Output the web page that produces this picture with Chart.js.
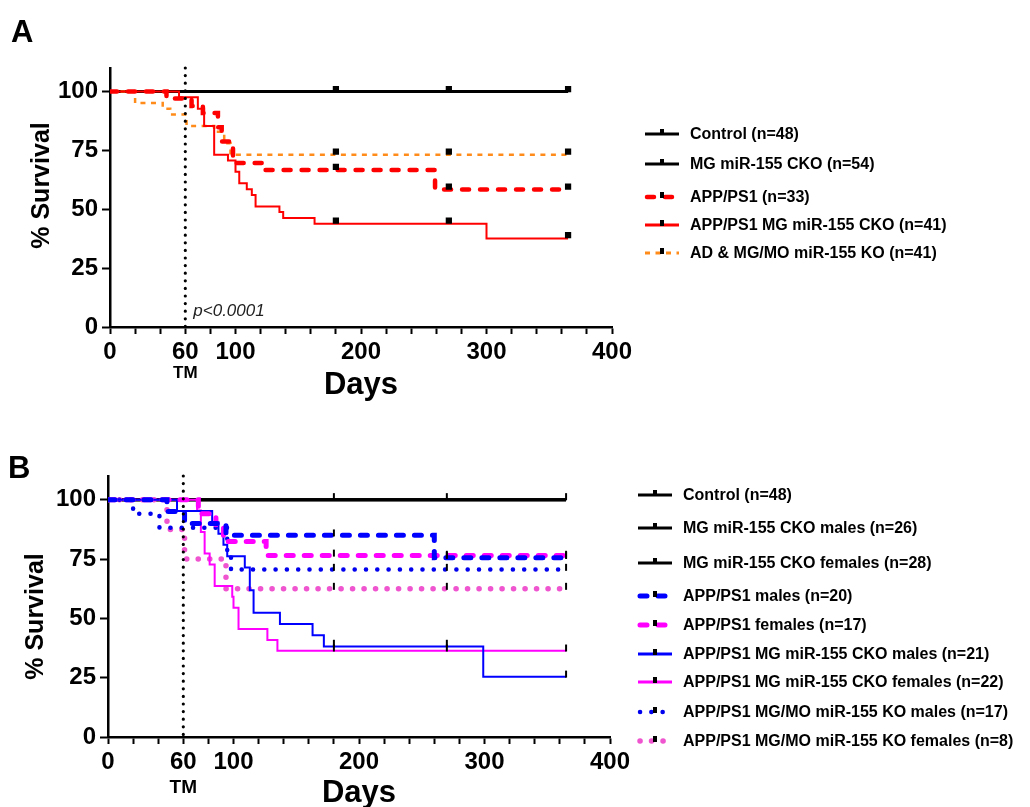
<!DOCTYPE html>
<html>
<head>
<meta charset="utf-8">
<script src="https://cdn.jsdelivr.net/npm/chart.js@4.4.1/dist/chart.umd.min.js"></script>
<style>
  body { margin: 0; background: #fff; }
  #chartA { position: absolute; left: 0; top: 0; }
  #chartB { position: absolute; left: 0; top: 410px; }
</style>
</head>
<body>
<canvas id="chartA" width="1030" height="410"></canvas>
<canvas id="chartB" width="1030" height="397"></canvas>
<script>
const FONT = '"Liberation Sans", Arial, Helvetica, sans-serif';

// axis ticks
const xTickVals = [0, 20, 40, 60, 80, 100, 120, 140, 160, 180, 200, 220, 240, 260, 280, 300, 320, 340, 360, 380, 400];
const xLabelVals = [0, 60, 100, 200, 300, 400];
const yTickVals = [0, 25, 50, 75, 100];
const censorDays = [180, 270, 365];

// ---- panel A: survival steps (day of event, % surviving after it)
const ctrlDays = [0, 365];
const ctrlSurv = [100, 100];
const mgCkoDays = [0, 365];
const mgCkoSurv = [100, 100];
const appDays = [0, 45, 65, 74, 86, 89, 95, 98, 122, 259, 365];
const appSurv = [100, 97.0, 93.9, 90.9, 84.8, 78.8, 75.8, 69.7, 66.7, 58.4, 58.4];
const appCkoDays = [0, 55, 70, 75, 83, 94, 100, 103, 109, 113, 116, 135, 138, 163, 300, 365];
const appCkoSurv = [100, 97.6, 92.7, 85.4, 73.2, 70.7, 65.9, 61.0, 58.5, 56.1, 51.2, 48.8, 46.3, 43.9, 37.6, 37.6];
const adKoDays = [0, 20, 42, 48, 61, 83, 91, 96, 365];
const adKoSurv = [100, 95.1, 92.7, 90.2, 85.4, 82.9, 78.0, 73.2, 73.2];

// censor marks (panel A)
const ctrlCensor = [101, 101, 101];
const appCensor = [68, 59.6, 59.6];
const appCkoCensor = [45.2, 45.2, 39];
const adKoCensor = [74.5, 74.5, 74.5];

// ---- panel B
const ckoMaleDays = [0, 365];
const ckoMaleSurv = [100, 100];
const ckoFemaleDays = [0, 365];
const ckoFemaleSurv = [100, 100];
const appMaleDays = [0, 47, 61, 94, 260, 365];
const appMaleSurv = [100, 95, 90, 85, 75.5, 75.5];
const appFemaleDays = [0, 72, 86, 92, 126, 365];
const appFemaleSurv = [100, 94.1, 88.2, 82.4, 76.5, 76.5];
const appCkoMaleDays = [0, 55, 83, 88, 92, 95, 109, 113, 116, 137, 163, 172, 299, 365];
const appCkoMaleSurv = [100, 95.2, 90.5, 85.7, 81.0, 76.2, 71.4, 61.9, 52.4, 47.6, 42.9, 38.1, 25.4, 25.4];
const appCkoFemaleDays = [0, 71, 74, 77, 81, 85, 99, 100, 104, 127, 135, 365];
const appCkoFemaleSurv = [100, 95.5, 86.4, 77.3, 72.7, 63.6, 59.1, 54.5, 45.5, 40.9, 36.4, 36.4];
const koMaleDays = [0, 20, 41, 95, 98, 365];
const koMaleSurv = [100, 94.1, 88.2, 76.5, 70.6, 70.6];
const koFemaleDays = [0, 47, 61, 94, 365];
const koFemaleSurv = [100, 87.5, 75, 62.5, 62.5];

// censor marks (panel B)
const ctrlCensorB = [101.3, 101.3, 101.3];
const appMaleCensor = [86, 76.5, 76.5];
const appFemaleCensor = [77.5, 77, 77];
const appCkoMaleCensor = [39.5, 39.5, 26.5];
const appCkoFemaleCensor = [37.5, 37.5, 37.5];
const koMaleCensor = [71.5, 71.5, 71.5];
const koFemaleCensor = [63.5, 63.5, 63.5];

const km = (days, surv) => days.map((d, i) => ({ x: d, y: surv[i] }));

function curve(label, days, surv, color, width, dash, cap, row) {
  return {
    label, data: km(days, surv), stepped: 'before',
    borderColor: color, backgroundColor: color, borderWidth: width,
    borderDash: dash, borderCapStyle: cap, pointRadius: 0, fill: false,
    order: color === '#000' ? 3 : 2, legendRow: row
  };
}
function marks(vals, style) {
  return {
    data: km(censorDays, vals), showLine: false, order: 0,
    pointStyle: style, pointRotation: style === 'line' ? 90 : 0,
    pointRadius: style === 'line' ? 3.5 : 3, pointBorderWidth: 2,
    pointBackgroundColor: '#000', pointBorderColor: '#000'
  };
}

// draws legend, titles and the 60-day dotted line
const decor = {
  id: 'decor',
  afterDraw(chart, args, o) {
    const ctx = chart.ctx;
    const xs = chart.scales.x, ys = chart.scales.y;
    const x60 = xs.getPixelForValue(60);
    ctx.save();
    // vertical dotted line at tamoxifen start
    ctx.strokeStyle = '#000';
    ctx.lineWidth = 3.2;
    ctx.lineCap = 'round';
    ctx.setLineDash([0, 7.6]);
    ctx.beginPath();
    ctx.moveTo(x60, chart.chartArea.top);
    ctx.lineTo(x60, ys.bottom + o.dotExtra);
    ctx.stroke();
    ctx.setLineDash([]);
    ctx.lineCap = 'butt';

    ctx.fillStyle = '#000';
    ctx.textAlign = 'left';
    ctx.textBaseline = 'alphabetic';
    ctx.font = 'bold 31px ' + FONT;
    ctx.fillText(o.letter, o.letterX, o.letterY);

    ctx.textAlign = 'center';
    ctx.font = 'bold 31px ' + FONT;
    ctx.fillText('Days', (xs.left + xs.right) / 2, o.daysY);
    ctx.font = 'bold ' + o.tmSize + 'px ' + FONT;
    ctx.fillText('TM', x60, o.tmY);

    ctx.save();
    ctx.translate(o.survX, (ys.top + ys.bottom) / 2 + o.survShift);
    ctx.rotate(-Math.PI / 2);
    ctx.font = 'bold 25px ' + FONT;
    ctx.textBaseline = 'middle';
    ctx.fillText('% Survival', 0, 0);
    ctx.restore();

    if (o.pText) {
      ctx.textAlign = 'left';
      ctx.font = 'italic 17px ' + FONT;
      ctx.fillStyle = '#222';
      ctx.fillText(o.pText, x60 + 8, ys.bottom - 11);
    }

    // legend
    ctx.textBaseline = 'middle';
    ctx.textAlign = 'left';
    ctx.font = 'bold 16px ' + FONT;
    chart.data.datasets.forEach(ds => {
      if (ds.legendRow === undefined) return;
      const y = o.rows[ds.legendRow];
      ctx.strokeStyle = ds.borderColor;
      ctx.lineWidth = Math.max(ds.borderWidth, 3);
      ctx.lineCap = ds.borderCapStyle;
      ctx.setLineDash(ds.borderDash || []);
      ctx.beginPath();
      ctx.moveTo(o.lineX + (ds.borderCapStyle === 'round' ? 2 : 0), y);
      ctx.lineTo(o.lineX + 34, y);
      ctx.stroke();
      ctx.setLineDash([]);
      ctx.fillStyle = '#000';
      ctx.fillRect(o.lineX + 15, y - 5, 4, 6);
      ctx.fillText(ds.label, o.textX, y + 1);
    });
    ctx.restore();
  }
};

function axes(yWidth, xHeight) {
  return {
    x: {
      type: 'linear', min: 0, max: 400,
      afterBuildTicks: s => { s.ticks = xTickVals.map(v => ({ value: v })); },
      afterFit: s => { s.height = xHeight; },
      ticks: {
        autoSkip: false, maxRotation: 0, padding: 4, color: '#000',
        font: { family: FONT, size: 24, weight: 'bold' },
        callback: v => xLabelVals.includes(v) ? String(v) : ''
      },
      grid: { drawOnChartArea: false, tickLength: 7, tickWidth: 2, tickColor: '#000' },
      border: { color: '#000', width: 2.5 }
    },
    y: {
      min: 0, max: 110,
      afterBuildTicks: s => { s.ticks = yTickVals.map(v => ({ value: v })); },
      afterFit: s => { s.width = yWidth; },
      ticks: { padding: 4, color: '#000', font: { family: FONT, size: 24, weight: 'bold' } },
      grid: { drawOnChartArea: false, tickLength: 8, tickWidth: 2, tickColor: '#000' },
      border: { color: '#000', width: 2.5 }
    }
  };
}

const dashed = [7, 11];
new Chart(document.getElementById('chartA'), {
  type: 'line',
  data: {
    datasets: [
      curve('Control (n=48)', ctrlDays, ctrlSurv, '#000', 3, [], 'butt', 0),
      curve('MG miR-155 CKO (n=54)', mgCkoDays, mgCkoSurv, '#000', 3, [], 'butt', 1),
      curve('APP/PS1 (n=33)', appDays, appSurv, '#ff0000', 4.5, dashed, 'round', 2),
      curve('APP/PS1 MG miR-155 CKO (n=41)', appCkoDays, appCkoSurv, '#ff0000', 2, [], 'butt', 3),
      curve('AD & MG/MO miR-155 KO (n=41)', adKoDays, adKoSurv, '#ff8c1a', 2.5, [5, 5.5], 'butt', 4),
      marks(ctrlCensor, 'rect'),
      marks(appCensor, 'rect'),
      marks(appCkoCensor, 'rect'),
      marks(adKoCensor, 'rect')
    ]
  },
  options: {
    responsive: false, animation: false,
    layout: { padding: { left: 0, top: 68, right: 418, bottom: 0 } },
    plugins: {
      legend: { display: false }, tooltip: { enabled: false },
      decor: {
        letter: 'A', letterX: 11, letterY: 42, daysY: 394, tmSize: 17, tmY: 378,
        survX: 42, survShift: -12, dotExtra: 6, pText: 'p<0.0001',
        lineX: 645, textX: 690, rows: [134, 164, 197, 225, 253]
      }
    },
    scales: axes(110, 410 - 327)
  },
  plugins: [decor]
});

new Chart(document.getElementById('chartB'), {
  type: 'line',
  data: {
    datasets: [
      curve('Control (n=48)', ctrlDays, ctrlSurv, '#000', 3, [], 'butt', 0),
      curve('MG miR-155 CKO males (n=26)', ckoMaleDays, ckoMaleSurv, '#000', 3, [], 'butt', 1),
      curve('MG miR-155 CKO females (n=28)', ckoFemaleDays, ckoFemaleSurv, '#000', 3, [], 'butt', 2),
      curve('APP/PS1 males (n=20)', appMaleDays, appMaleSurv, '#0000ff', 5, dashed, 'round', 3),
      curve('APP/PS1 females (n=17)', appFemaleDays, appFemaleSurv, '#ff00ff', 5, dashed, 'round', 4),
      curve('APP/PS1 MG miR-155 CKO males (n=21)', appCkoMaleDays, appCkoMaleSurv, '#0000ff', 2, [], 'butt', 5),
      curve('APP/PS1 MG miR-155 CKO females (n=22)', appCkoFemaleDays, appCkoFemaleSurv, '#ff00ff', 2, [], 'butt', 6),
      curve('APP/PS1 MG/MO miR-155 KO males (n=17)', koMaleDays, koMaleSurv, '#0000ee', 4.5, [0.1, 11.2], 'round', 7),
      curve('APP/PS1 MG/MO miR-155 KO females (n=8)', koFemaleDays, koFemaleSurv, '#f055d0', 5.5, [0.1, 11.4], 'round', 8),
      marks(ctrlCensorB, 'line'),
      marks(appMaleCensor, 'line'),
      marks(appFemaleCensor, 'line'),
      marks(appCkoMaleCensor, 'line'),
      marks(appCkoFemaleCensor, 'line'),
      marks(koMaleCensor, 'line'),
      marks(koFemaleCensor, 'line')
    ]
  },
  options: {
    responsive: false, animation: false,
    layout: { padding: { left: 0, top: 66, right: 420, bottom: 0 } },
    plugins: {
      legend: { display: false }, tooltip: { enabled: false },
      decor: {
        letter: 'B', letterX: 8, letterY: 68, daysY: 392, tmSize: 19, tmY: 383,
        survX: 36, survShift: 10, dotExtra: 2, pText: '',
        lineX: 638, textX: 683, rows: [85, 118, 153, 186, 215, 244, 272, 302, 331]
      }
    },
    scales: axes(108, 397 - 327)
  },
  plugins: [decor]
});
</script>
</body>
</html>
